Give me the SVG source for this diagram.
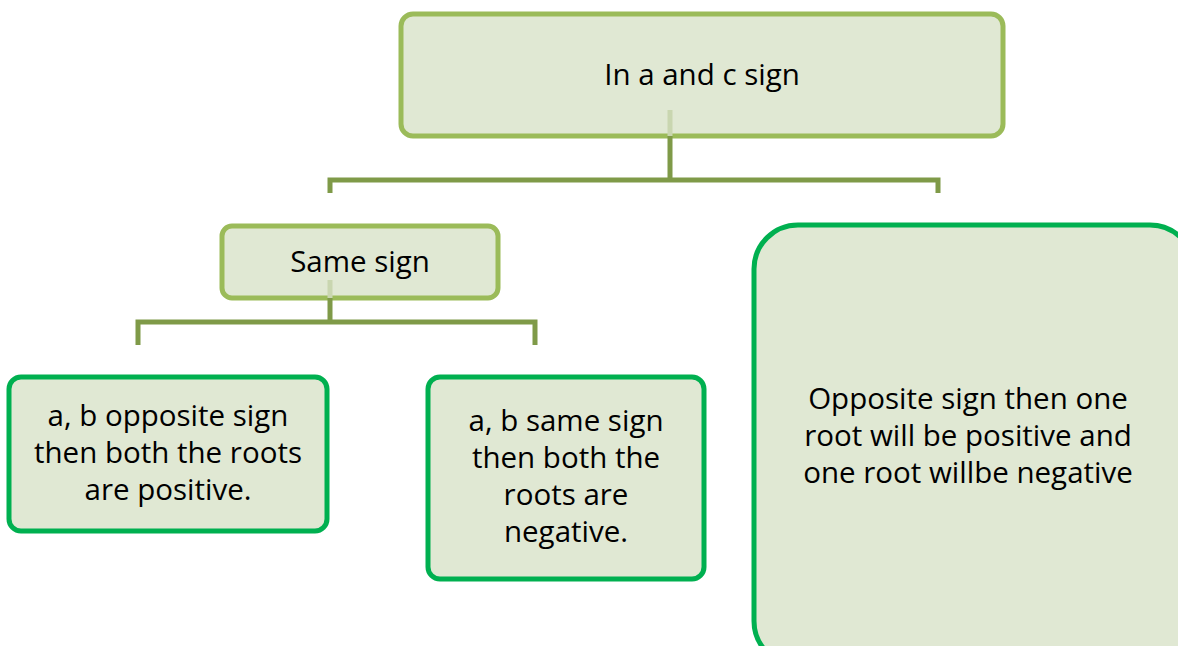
<svg xmlns="http://www.w3.org/2000/svg" width="1178" height="646" viewBox="0 0 1178 646">
<style>
.b1{fill:#e0e8d3;stroke:#9bbb59;stroke-width:5}
.b2{fill:#e0e8d3;stroke:#00b050;stroke-width:5}
.c{fill:none;stroke:#7f9a48;stroke-width:5}
.cf{fill:none;stroke:#c9d6b0;stroke-width:5}
text{font-family:"Open Sans","Noto Sans",sans-serif;font-size:29.5px;fill:#000;text-anchor:middle}
</style>
<rect width="1178" height="646" fill="#fff"/>
<g id="n-top"><rect class="b1" x="401" y="14" width="602" height="122" rx="12"/><text x="702" y="85">In a and c sign</text></g>
<g id="n-same"><rect class="b1" x="222" y="226" width="276" height="72" rx="10"/><text x="360" y="272">Same sign</text></g>
<g id="n-left"><rect class="b2" x="9" y="377" width="318" height="154" rx="12"/><text x="168" y="426">a, b opposite sign</text><text x="168" y="463">then both the roots</text><text x="168" y="500">are positive.</text></g>
<g id="n-mid"><rect class="b2" x="428" y="377" width="276" height="202" rx="12"/><text x="566" y="431">a, b same sign</text><text x="566" y="468">then both the</text><text x="566" y="505">roots are</text><text x="566" y="542">negative.</text></g>
<g id="n-right"><rect class="b2" x="754" y="225" width="440" height="440" rx="44"/><text x="968" y="409">Opposite sign then one</text><text x="968" y="446">root will be positive and</text><text x="968" y="483">one root willbe negative</text></g>
<g id="connectors">
<path class="cf" d="M670 110V136M330 280V298"/>
<path class="c" d="M670 136V180M330 193V180H938V193"/>
<path class="c" d="M330 298V322M138 345V322H535V345"/>
</g>
</svg>
